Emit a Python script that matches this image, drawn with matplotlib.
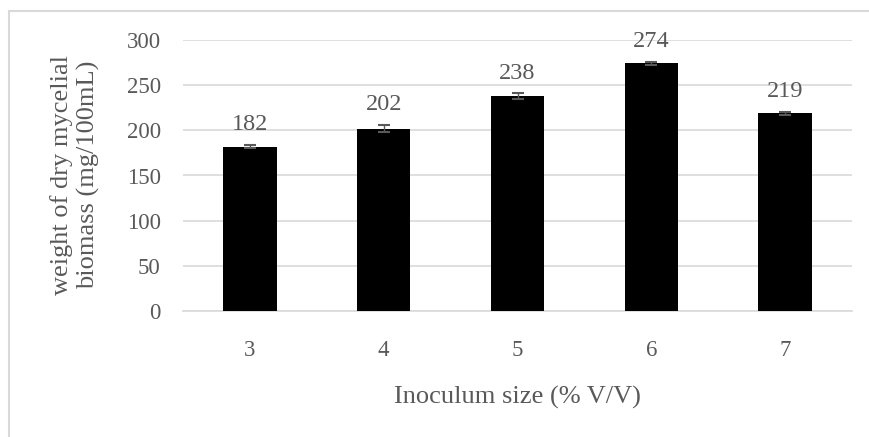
import matplotlib
matplotlib.use("Agg")
import matplotlib.pyplot as plt
from matplotlib.patches import Rectangle

categories = ["3", "4", "5", "6", "7"]
values = [182, 202, 238, 274, 219]
errors = [2, 4, 3, 2, 1.5]
yticks = [0, 50, 100, 150, 200, 250, 300]

plt.rcParams['font.family'] = ['Liberation Serif', 'DejaVu Serif']
txt = '#595959'

fig = plt.figure(figsize=(8.7, 4.37), dpi=100)
W, H = 870, 437
ax = fig.add_axes([183 / W, 1 - 311 / H, (852 - 183) / W, (311 - 40) / H])

x = list(range(len(categories)))
ax.bar(x, values, width=0.4, color='black', zorder=3)
ax.errorbar(x, values, yerr=errors, fmt='none', ecolor='#595959', elinewidth=1,
            capsize=4.5, capthick=1.5, zorder=4)
for xi, v, e in zip(x, values, errors):
    ax.annotate(str(v), (xi, v + e), xytext=(0, 7), textcoords='offset points',
                ha='center', va='bottom', fontsize=17.5, color=txt)

ax.set_xlim(-0.5, len(categories) - 0.5)
ax.set_ylim(0, 300)
ax.set_yticks(yticks)
ax.set_xticks(x)
ax.set_xticklabels(categories)
ax.tick_params(axis='both', length=0, labelsize=16.5, colors=txt)
ax.tick_params(axis='y', pad=16)
ax.tick_params(axis='x', pad=21)
ax.grid(axis='y', color='#d9d9d9', linewidth=1.2, zorder=0)
for s in ['top', 'right', 'left']:
    ax.spines[s].set_visible(False)
ax.spines['bottom'].set_color('#d9d9d9')
ax.spines['bottom'].set_linewidth(1.2)

fig.text(517 / W, 1 - 397 / H, 'Inoculum size (% V/V)', ha='center', va='center',
         fontsize=19, color=txt)
fig.text(75 / W, 1 - 175 / H, 'weight of dry mycelial\nbiomass (mg/100mL)', rotation=90,
         ha='center', va='center', fontsize=19, color=txt, linespacing=1.2)

fig.patches.append(Rectangle((9 / W, -0.1), 1.2, 1 - 11 / H + 0.1, transform=fig.transFigure,
                             fill=False, edgecolor='#d9d9d9', linewidth=1.5))

fig.savefig('out.png', dpi=100)
